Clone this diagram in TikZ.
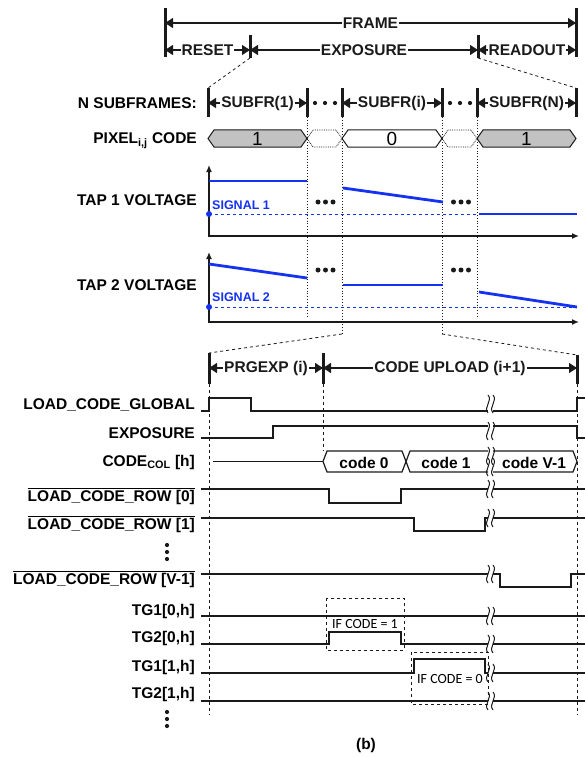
\documentclass[tikz,border=0pt]{standalone}
\usepackage{amsmath}
\usepackage{fontspec}
\setmainfont{Liberation Sans}
\newfontfamily\calib{Carlito}
\usepackage{xcolor}
\usepackage{tikz}
\usetikzlibrary{arrows.meta}
\definecolor{sigc}{HTML}{1432F0}
\definecolor{busg}{HTML}{C2C2C2}
\definecolor{inkc}{HTML}{1A1A1A}
\newcommand\lblfont{\fontsize{15.5}{17}\selectfont\bfseries}
\newcommand\ovl[1]{$\overline{\mbox{#1}}$}
\tikzset{
  bar/.style={line width=3pt,inkc},
  dim/.style={{Triangle[length=8pt,width=10pt]}-{Triangle[length=8pt,width=10pt]},line width=1.2pt,inkc},
  dl/.style={fill=white,inner sep=1pt,font=\lblfont},
  lbl/.style={anchor=east,inner sep=0pt,font=\lblfont},
  sig/.style={line width=1.2pt,inkc},
  brk/.style={line width=1pt,inkc},
  tap/.style={line width=2.8pt,sigc},
  sigdash/.style={dashed,line width=0.9pt,sigc},
  siglbl/.style={anchor=west,inner sep=0pt,text=sigc,font=\fontsize{12.5}{14}\selectfont\bfseries},
  ax/.style={{Latex[length=7pt,width=6pt]}-{Latex[length=7pt,width=6pt]},line width=1.5pt,inkc},
  vdot/.style={dotted,line width=0.8pt,inkc},
  vdash/.style={dashed,line width=0.8pt,inkc},
  gbus/.style={draw=inkc,line width=1pt,fill=busg},
  wbus/.style={draw=inkc,line width=1pt,fill=white},
  dbus/.style={draw=inkc,densely dotted,line width=0.8pt},
  ifbox/.style={draw=inkc,dashed,line width=1pt}
}
\begin{document}
\begin{tikzpicture}[x=1pt,y=-1pt]
\useasboundingbox (0,0) rectangle (585,757);
% frame / reset / exposure / readout
\draw[bar] (165,8) -- (165,57);
\draw[bar] (576,8) -- (576,57);
\draw[bar] (250,35) -- (250,58);
\draw[bar] (478,35) -- (478,58);
\draw[dim] (165,23) -- node[dl] (frame) {FRAME} (576,23);
\draw[dim] (165,50) -- node[dl] (reset) {RESET} (250,50);
\draw[dim] (250,50) -- node[dl] (expo) {EXPOSURE} (478,50);
\draw[dim] (478,50) -- node[dl] (rdout) {READOUT} (576,50);
\draw[vdash] (250,58) -- (208,88);
\draw[vdash] (478,58) -- (576,88);
% subframes
\node[lbl] (nsub) at (197,103) {N SUBFRAMES:};
\foreach \x in {208,307,342,442,477,576} \draw[bar] (\x,88) -- (\x,117);
\draw[dim] (208,103) -- node[dl] (sf1) {SUBFR(1)} (307,103);
\draw[dim] (342,103) -- node[dl] (sfi) {SUBFR(i)} (442,103);
\draw[dim] (477,103) -- node[dl] (sfn) {SUBFR(N)} (576,103);
\foreach \x in {315,325,335,450,460,470} \fill[inkc] (\x,103) circle (2.1);
% pixel code
\node[lbl] (pix) at (197,141) {PIXEL\textsubscript{i,j} CODE};
\foreach \a/\b/\st in {208/307/gbus,307/342/dbus,342/442/wbus,442/477/dbus,477/576/gbus}
  \path[\st] (\a,138.5) -- (\a+6,130) -- (\b-6,130) -- (\b,138.5) -- (\b-6,147) -- (\a+6,147) -- cycle;
\node[font=\fontsize{19}{21}\selectfont] (c1) at (257.5,139) {1};
\node[font=\fontsize{19}{21}\selectfont] (c0) at (392,139) {0};
\node[font=\fontsize{19}{21}\selectfont] (cn) at (526.5,139) {1};
\draw[vdot] (307,117) -- (307,317);
\draw[vdot] (477,117) -- (477,317);
\draw[vdot] (342,117) -- (342,334);
\draw[vdot] (442,117) -- (442,334);
\draw[vdash] (342,334) -- (209,353);
\draw[vdash] (442,334) -- (577,355);
% tap 1
\node[lbl] (tap1) at (197,200) {TAP 1 VOLTAGE};
\draw[ax] (209,165) -- (209,236) -- (579,236);
\draw[tap] (209,181) -- (307,181);
\draw[tap] (343,188) -- (443,202);
\draw[sigdash] (209,214) -- (479,214);
\draw[tap] (479,214) -- (577,214);
\fill[sigc] (209,214) circle (3);
\node[siglbl] (s1) at (212,205) {SIGNAL 1};
\foreach \x in {318,325.5,333,453.5,461,468.5} \fill[inkc] (\x,202) circle (2.5);
% tap 2
\node[lbl] (tap2) at (197,285) {TAP 2 VOLTAGE};
\draw[ax] (209,252) -- (209,322) -- (579,322);
\draw[tap] (209,264) -- (307,278);
\draw[tap] (343,285) -- (443,285);
\draw[tap] (479,292) -- (577,307);
\draw[sigdash] (209,307) -- (577,307);
\fill[sigc] (209,307) circle (3);
\node[siglbl] (s2) at (212,297) {SIGNAL 2};
\foreach \x in {318,325.5,333,453.5,461,468.5} \fill[inkc] (\x,270) circle (2.5);
% prgexp / code upload
\draw[bar] (209,353) -- (209,384);
\draw[bar] (323,353) -- (323,384);
\draw[bar] (577,355) -- (577,384);
\draw[dim] (209,368) -- node[dl] (prg) {PRGEXP (i)} (323,368);
\draw[dim] (323,368) -- node[dl] (upl) {CODE UPLOAD (i+1)} (577,368);
\draw[vdash] (209,384) -- (209,715);
\draw[vdash] (323,384) -- (323,451);
\draw[vdash] (577,384) -- (577,715);
% signal names
\node[lbl] (lcg) at (195,405) {LOAD\_CODE\_GLOBAL};
\node[lbl] (exps) at (195,433) {EXPOSURE};
\node[lbl] (ccol) at (195,462) {CODE\textsubscript{COL} [h]};
\node[lbl] (row0) at (195,496) {\ovl{LOAD\_CODE\_ROW [0]}};
\node[lbl] (row1) at (195,524) {\ovl{LOAD\_CODE\_ROW [1]}};
\node[lbl] (rowv) at (195,579) {\ovl{LOAD\_CODE\_ROW [V-1]}};
\node[lbl] (tg10) at (195,611) {TG1[0,h]};
\node[lbl] (tg20) at (195,638) {TG2[0,h]};
\node[lbl] (tg11) at (195,667) {TG1[1,h]};
\node[lbl] (tg21) at (195,694) {TG2[1,h]};
\foreach \y in {545,552,559,712,719,726} \fill[inkc] (167,\y) circle (2.1);
% waveforms
\draw[sig] (201,411) -- (209,411) -- (209,398) -- (251,398) -- (251,411) -- (488,411);
\draw[sig] (493,411) -- (577,411) -- (577,398) -- (585,398);
\draw[sig] (201,438) -- (273,438) -- (273,426) -- (488,426);
\draw[sig] (493,426) -- (577,426) -- (577,438) -- (585,438);
\draw[sig] (213,461.5) -- (323,461.5);
\draw[sig] (323,461.5) -- (327,451) -- (402,451) -- (410,472) -- (488,472);
\draw[sig] (323,461.5) -- (327,472) -- (402,472) -- (410,451) -- (488,451);
\draw[sig] (493,451) -- (573,451) -- (577,461.5) -- (573,472) -- (493,472);
\node[font=\lblfont] (cd0) at (364,463) {code 0};
\node[font=\lblfont] (cd1) at (446,463) {code 1};
\node[font=\lblfont] (cdv) at (534,463) {code V-1};
\draw[sig] (201,489) -- (329,489) -- (329,503) -- (401,503) -- (401,489) -- (488,489);
\draw[sig] (493,489) -- (585,489);
\draw[sig] (201,518) -- (414,518) -- (414,531) -- (485,531) -- (485,518) -- (488,518);
\draw[sig] (493,518) -- (585,518);
\draw[sig] (201,574) -- (488,574);
\draw[sig] (493,574) -- (500,574) -- (500,587) -- (571,587) -- (571,574) -- (585,574);
\draw[sig] (201,616) -- (488,616);
\draw[sig] (493,616) -- (585,616);
\draw[sig] (201,644) -- (329,644) -- (329,632) -- (401,632) -- (401,644) -- (488,644);
\draw[sig] (493,644) -- (585,644);
\draw[sig] (201,673) -- (414,673) -- (414,659) -- (485,659) -- (485,673) -- (488,673);
\draw[sig] (493,673) -- (585,673);
\draw[sig] (201,701) -- (488,701);
\draw[sig] (493,701) -- (585,701);
% break marks
\foreach \y in {404,431,456,467,489,518,574,616,644,673,701}
  \foreach \x in {488,493}
    \draw[brk] (\x,\y-9) .. controls (\x+5,\y-3) and (\x-5,\y+3) .. (\x,\y+9);
% code boxes
\draw[ifbox] (326,598) rectangle (404,650);
\node[font=\calib\fontsize{14}{16}\selectfont,fill=white,inner sep=0.5pt] (if1) at (365,624) {IF CODE = 1};
\draw[ifbox] (411,652) rectangle (488,704);
\node[font=\calib\fontsize{14}{16}\selectfont,fill=white,inner sep=0.5pt] (if0) at (450,679) {IF CODE = 0};
\node[font=\lblfont] (cap) at (366,745) {(b)};
\end{tikzpicture}
\end{document}
